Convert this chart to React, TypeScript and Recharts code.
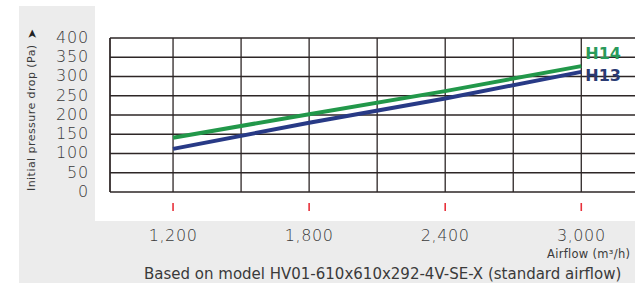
import { LineChart, Line, XAxis, YAxis, CartesianGrid } from 'recharts';

// airflow in m³/h, initial pressure drop in Pa
const airflow = [1200, 1800, 2400, 3000];
const h14 = [141, 202, 262, 327];
const h13 = [112, 180, 243, 312];

const xTicks = [1200, 1500, 1800, 2100, 2400, 2700, 3000, 3300];
const labeledTicks = [1200, 1800, 2400, 3000];
const yTicks = [0, 50, 100, 150, 200, 250, 300, 350, 400];

const data = airflow.map((a, i) => ({ airflow: a, h14: h14[i], h13: h13[i] }));

const GREEN = '#22984a';
const BLUE = '#283a86';
const GRID = '#2d2626';
const FONT = '"DejaVu Sans", sans-serif';

const fmt = (v: number) => v.toLocaleString('en-US');

function XTick(props: any) {
  const { x, y, payload } = props;
  if (!labeledTicks.includes(payload.value)) return <g />;
  return (
    <g>
      <line x1={x} x2={x} y1={y + 11} y2={y + 19} stroke="#e8303a" strokeWidth={1.6} />
      <text
        x={x}
        y={y + 49}
        textAnchor="middle"
        fontFamily={FONT}
        fontSize={16}
        fontWeight={300}
        fill="#3a3a3a"
        letterSpacing={0.6}
      >
        {fmt(payload.value)}
      </text>
    </g>
  );
}

function YTick(props: any) {
  const { x, y, payload } = props;
  return (
    <text
      x={x}
      y={y}
      dy="0.3em"
      textAnchor="end"
      fontFamily={FONT}
      fontSize={16}
      fontWeight={300}
      fill="#3a3a3a"
      letterSpacing={0.8}
    >
      {payload.value}
    </text>
  );
}

function endLabel(name: string, color: string, dy: number) {
  return (props: any) => {
    const { x, y, index } = props;
    if (index !== airflow.length - 1) return <g />;
    return (
      <text
        x={x + 4}
        y={y + dy}
        fontFamily={FONT}
        fontSize={16}
        fontWeight="bold"
        fill={color}
      >
        {name}
      </text>
    );
  };
}

export default function App() {
  return (
    <div
      style={{
        position: 'absolute',
        left: 0,
        top: 0,
        width: 635,
        height: 283,
        overflow: 'hidden',
        background: '#fff',
      }}
    >
      {/* gray frame + white chart panel */}
      <div style={{ position: 'absolute', left: 19, top: 6, right: 0, bottom: 0, background: '#ececec' }} />
      <div style={{ position: 'absolute', left: 95, top: 0, right: 0, height: 221, background: '#fff' }} />

      <div style={{ position: 'absolute', left: 0, top: 0 }}>
        <LineChart
          width={700}
          height={283}
          data={data}
          margin={{ top: 38, right: 28, bottom: 41, left: 50 }}
        >
          <CartesianGrid stroke={GRID} strokeWidth={1.3} />
          <XAxis
            dataKey="airflow"
            type="number"
            domain={[922, 3400]}
            ticks={xTicks}
            axisLine={false}
            tickLine={false}
            tickSize={0}
            tickMargin={0}
            height={50}
            interval={0}
            tick={<XTick />}
          />
          <YAxis
            type="number"
            domain={[0, 400]}
            ticks={yTicks}
            width={60}
            axisLine={{ stroke: GRID, strokeWidth: 1.3 }}
            tickLine={false}
            tickSize={0}
            tickMargin={21}
            interval={0}
            tick={<YTick />}
          />
          <Line
            type="linear"
            dataKey="h14"
            stroke={GREEN}
            strokeWidth={4}
            dot={false}
            isAnimationActive={false}
            label={endLabel('H14', '#2a9a5a', -7)}
          />
          <Line
            type="linear"
            dataKey="h13"
            stroke={BLUE}
            strokeWidth={4}
            dot={false}
            isAnimationActive={false}
            label={endLabel('H13', '#2a3a72', 9)}
          />
        </LineChart>
      </div>

      {/* axis titles and footnote */}
      <svg
        width={635}
        height={283}
        style={{ position: 'absolute', left: 0, top: 0, pointerEvents: 'none' }}
      >
        <text
          transform="translate(35, 191) rotate(-90)"
          fontFamily={FONT}
          fontSize={11}
          letterSpacing={0.45}
          fill="#3a3a3a"
        >
          Initial pressure drop (Pa)
        </text>
        <text
          transform="translate(36, 39) rotate(-90)"
          fontFamily={FONT}
          fontSize={12}
          fill="#222"
        >
          ➤
        </text>
        <text x={547} y={258} fontFamily={FONT} fontSize={11.5} letterSpacing={0.3} fill="#3a3a3a">
          Airflow (m³/h)
        </text>
        <text x={144} y={279} fontFamily={FONT} fontSize={15} fill="#3a3a3a">
          Based on model HV01-610x610x292-4V-SE-X (standard airflow)
        </text>
      </svg>
    </div>
  );
}
